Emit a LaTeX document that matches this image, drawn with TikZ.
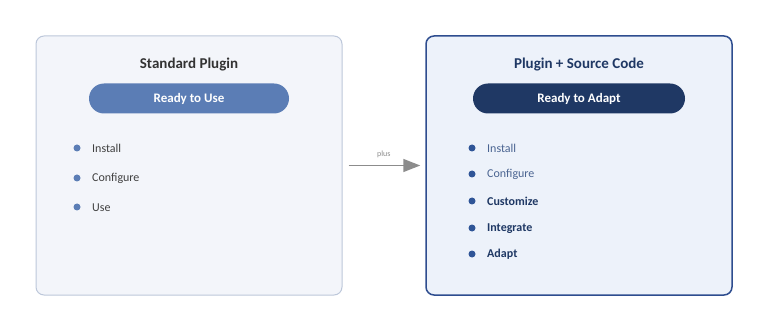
\documentclass[tikz,border=0pt]{standalone}
\usepackage{fontspec}
\setmainfont{Carlito}
\usetikzlibrary{arrows.meta}

\definecolor{stdfill}{HTML}{F3F5FA}
\definecolor{stdline}{HTML}{BCC7DA}
\definecolor{srcfill}{HTML}{EDF2FA}
\definecolor{srcline}{HTML}{2E4D8F}
\definecolor{stdpill}{HTML}{5B7DB5}
\definecolor{srcpill}{HTML}{1F3864}
\definecolor{stdtext}{HTML}{333333}
\definecolor{itemtext}{HTML}{404040}
\definecolor{softtext}{HTML}{4A6491}
\definecolor{srcdot}{HTML}{2F5597}
\definecolor{arrowgray}{HTML}{8C8C8C}

\tikzset{
  box/.style={rectangle, rounded corners=8pt, minimum width=306pt, minimum height=259pt},
  title/.style={font=\bfseries\fontsize{15}{18}\selectfont},
  pill/.style={rounded corners=15pt, minimum height=30pt, text=white, font=\bfseries\fontsize{13}{15}\selectfont},
  dot/.style={circle, minimum size=7pt},
  item/.style={anchor=west, font=\fontsize{12}{14}\selectfont}
}

\begin{document}
\begin{tikzpicture}[x=1pt, y=-1pt, >={Triangle[length=17pt,width=13pt]}, every node/.style={inner sep=0pt}]
  \useasboundingbox (0,0) rectangle (768,331);

  % ---------- 左框 Standard Plugin ----------
  % 1. 外框
  \node[box, draw=stdline, fill=stdfill, line width=1pt] (std) at (189,165.5) {};
  % 2. 标题与标签
  \node[title, text=stdtext] (stdtitle) at (189,64.5) {Standard Plugin};
  \node[pill, fill=stdpill, minimum width=200pt] (stdpill) at (189,98.5) {Ready to Use};
  % 3. 列表
  \node[dot, fill=stdpill] (stddot1) at (77,148) {};
  \node[item, text=itemtext] (stditem1) at (92,148.5) {Install};
  \node[dot, fill=stdpill] (stddot2) at (77,178) {};
  \node[item, text=itemtext] (stditem2) at (92,178.5) {Configure};
  \node[dot, fill=stdpill] (stddot3) at (77,207) {};
  \node[item, text=itemtext] (stditem3) at (92,207.5) {Use};

  % ---------- 右框 Plugin + Source Code ----------
  % 1. 外框
  \node[box, draw=srcline, fill=srcfill, line width=1.5pt] (src) at (579,165.5) {};
  % 2. 标题与标签
  \node[title, text=srcpill] (srctitle) at (579,64.5) {Plugin + Source Code};
  \node[pill, fill=srcpill, minimum width=212pt] (srcpill) at (579,98.5) {Ready to Adapt};
  % 3. 列表
  \node[dot, fill=srcdot] (srcdot1) at (472,148) {};
  \node[item, text=softtext] (srcitem1) at (487,148.5) {Install};
  \node[dot, fill=srcdot] (srcdot2) at (472,174) {};
  \node[item, text=softtext] (srcitem2) at (487,174.5) {Configure};
  \node[dot, fill=srcdot] (srcdot3) at (472,201) {};
  \node[item, text=srcpill, font=\bfseries\fontsize{12}{14}\selectfont] (srcitem3) at (487,201.5) {Customize};
  \node[dot, fill=srcdot] (srcdot4) at (472,228) {};
  \node[item, text=srcpill, font=\bfseries\fontsize{12}{14}\selectfont] (srcitem4) at (487,228.5) {Integrate};
  \node[dot, fill=srcdot] (srcdot5) at (472,254) {};
  \node[item, text=srcpill, font=\bfseries\fontsize{12}{14}\selectfont] (srcitem5) at (487,254.5) {Adapt};

  % ---------- 箭头 ----------
  \draw[->, line width=1.5pt, arrowgray, shorten <=6pt, shorten >=5pt] (std.east) -- node[above=7pt, font=\fontsize{8}{10}\selectfont, text=arrowgray] (plus) {plus} (src.west);
\end{tikzpicture}
\end{document}
